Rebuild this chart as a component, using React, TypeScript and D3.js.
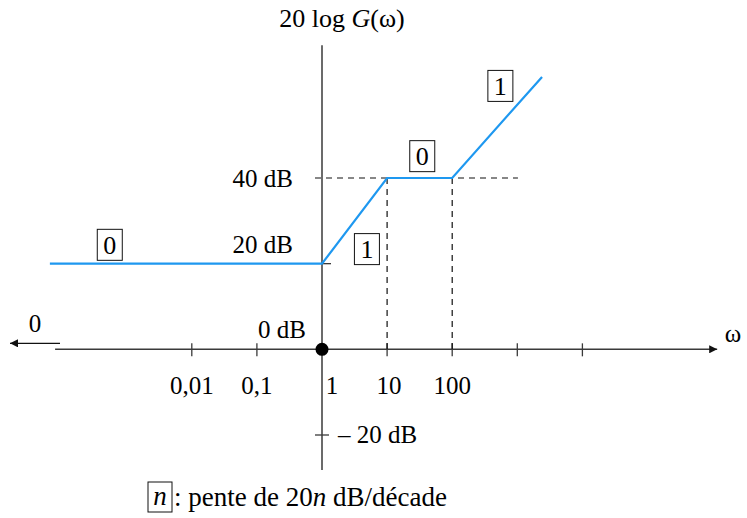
import React from "react";
import * as d3 from "d3";

const W = 747, H = 518;
// asymptotic Bode curve: omega (log) and gain in dB
const omegaPts = [Math.pow(10, -4.18), 1, 10, 100, Math.pow(10, 3.38)];
const gainDb = [20, 20, 40, 40, 63.6];
const tickOmega = [0.01, 0.1, 1, 10, 100, 1000, 10000];
const tickLabels = ["0,01", "0,1", "1", "10", "100", "", ""];
const dbLabels = [40, 20, 0, -20];
const dbText = ["40 dB", "20 dB", "0 dB", "\u2013 20 dB"];
// slope boxes: [omega, dB, n]
const slopeOmega = [Math.pow(10, -3.26), Math.pow(10, 0.69), Math.pow(10, 1.54), Math.pow(10, 2.74)];
const slopeDb = [24.4, 23.4, 45.1, 61.5];
const slopeN = ["0", "1", "0", "1"];

const x = d3.scaleLog().domain([1e-4, 1e4]).range([322 - 4 * 65.1, 322 + 4 * 65.1]);
const y = d3.scaleLinear().domain([-20, 40]).range([435, 178]);

const FONT = "'Liberation Serif', 'Times New Roman', serif";
const BLUE = "#1e98f0";
const AX = "#3a3a3a";
const FS = 25;

export default function App() {
  const line = d3.line<number>().x((d) => x(d)).y((_, i) => y(gainDb[i]));
  const x0 = x(1), y0 = y(0);
  const xMin = x(Math.pow(10, -4.1)), xMax = x(Math.pow(10, 6.07));
  const yTop = y(71), yBot = y(-28.2);
  const tickX = (t: number) => (t === 1 ? x(t) + 10 : t === 10 ? x(t) + 2 : x(t));
  return (
    <svg width={W} height={H} style={{ position: "absolute", left: 0, top: 0, background: "#fff" }} fontFamily={FONT}>
      <defs>
        <marker id="ah" viewBox="0 0 10 10" refX="10" refY="5" markerWidth="13" markerHeight="8" markerUnits="userSpaceOnUse" orient="auto">
          <path d="M0,0 L10,5 L0,10 z" fill="#111" />
        </marker>
      </defs>
      {/* horizontal axis */}
      <line x1={xMin} x2={xMax} y1={y0} y2={y0} stroke={AX} strokeWidth={1.5} markerEnd="url(#ah)" />
      {/* left arrow toward 0 */}
      <line x1={60} x2={10} y1={y0 - 6} y2={y0 - 6} stroke="#111" strokeWidth={1.3} markerEnd="url(#ah)" />
      <text x={35} y={y0 - 17} fontSize={FS} textAnchor="middle">0</text>
      <text x={733} y={y0 - 7} fontSize={FS} textAnchor="middle">ω</text>
      {/* vertical axis */}
      <line x1={x0} x2={x0} y1={yTop} y2={yBot} stroke={AX} strokeWidth={1.5} />
      <text x={342} y={27} fontSize={26} textAnchor="middle">20 log <tspan fontStyle="italic">G</tspan>(ω)</text>
      {/* x ticks */}
      {tickOmega.map((t, i) => (
        <g key={i}>
          {t !== 1 && <line x1={x(t)} x2={x(t)} y1={y0 - 6} y2={y0 + 7} stroke={AX} strokeWidth={1.3} />}
          {tickLabels[i] && (
            <text x={tickX(t)} y={y0 + 45} fontSize={FS} textAnchor="middle">{tickLabels[i]}</text>
          )}
        </g>
      ))}
      {/* dashed guides */}
      <line x1={x0 - 7} x2={x(Math.pow(10, 3.01))} y1={y(40)} y2={y(40)} stroke="#111" strokeWidth={1.2} strokeDasharray="6,5" />
      {[10, 100].map((t) => (
        <line key={t} x1={x(t)} x2={x(t)} y1={y(40)} y2={y0} stroke="#111" strokeWidth={1.2} strokeDasharray="6,5" />
      ))}
      {/* y ticks */}
      <line x1={x0 - 7} x2={x0 + 7} y1={y(-20)} y2={y(-20)} stroke={AX} strokeWidth={1.3} />
      <line x1={x0} x2={x0 + 9} y1={y(20)} y2={y(20)} stroke={AX} strokeWidth={1.3} />
      {dbLabels.map((d, i) =>
        d === -20 ? (
          <text key={i} x={x0 + 16} y={y(d) + 8} fontSize={FS}>{dbText[i]}</text>
        ) : (
          <text key={i} x={d === 0 ? x0 - 16 : x0 - 29} y={d === 40 ? y(d) + 9 : y(d) - 11} fontSize={FS} textAnchor="end">{dbText[i]}</text>
        )
      )}
      {/* curve */}
      <path d={line(omegaPts) || ""} fill="none" stroke={BLUE} strokeWidth={2.2} />
      <circle cx={x0} cy={y0} r={6.5} fill="#000" />
      {/* slope boxes */}
      {slopeN.map((n, i) => (
        <g key={i} transform={`translate(${x(slopeOmega[i])},${y(slopeDb[i])})`}>
          <rect x={-12.5} y={-15.5} width={25} height={31} fill="#fff" stroke="#111" strokeWidth={1} />
          <text x={0} y={9} fontSize={26} textAnchor="middle">{n}</text>
        </g>
      ))}
      {/* legend */}
      <rect x={148} y={482} width={24} height={30} fill="#fff" stroke="#111" strokeWidth={1} />
      <text x={160} y={505} fontSize={27} textAnchor="middle" fontStyle="italic">n</text>
      <text x={174} y={506} fontSize={27}>: pente de 20<tspan fontStyle="italic">n</tspan> dB/décade</text>
    </svg>
  );
}
